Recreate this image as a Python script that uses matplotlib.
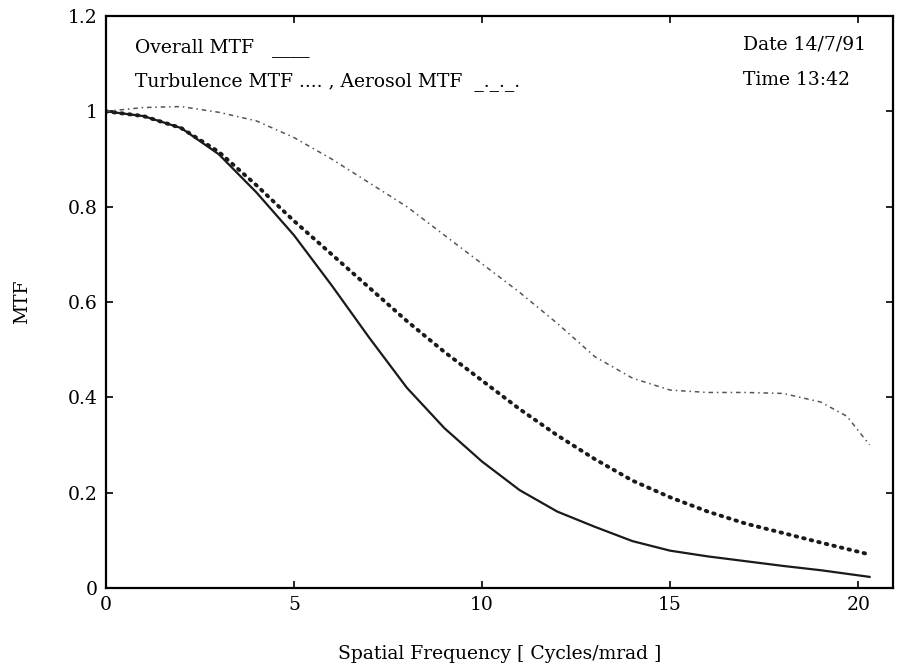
import numpy as np
import matplotlib.pyplot as plt

# ---- data ----
freq = [0, 1, 2, 3, 4, 5, 6, 7, 8, 9, 10, 11, 12, 13, 14, 15, 16, 17, 18, 19, 20.3]

overall_mtf = [1.0, 0.99, 0.965, 0.91, 0.83, 0.74, 0.635, 0.525, 0.42, 0.335, 0.265,
               0.205, 0.16, 0.128, 0.098, 0.078, 0.066, 0.056, 0.046, 0.037, 0.023]

turbulence_mtf = [1.0, 0.99, 0.965, 0.915, 0.845, 0.77, 0.70, 0.63, 0.56, 0.495, 0.435,
                  0.375, 0.32, 0.27, 0.225, 0.19, 0.16, 0.135, 0.115, 0.095, 0.07]

aerosol_freq = [0, 1, 2, 3, 4, 5, 6, 7, 8, 9, 10, 11, 12, 13, 14, 15, 16, 17, 18, 19, 19.7, 20.3]
aerosol_mtf = [1.0, 1.008, 1.01, 0.998, 0.98, 0.945, 0.90, 0.85, 0.80, 0.74, 0.68,
               0.62, 0.555, 0.485, 0.44, 0.415, 0.41, 0.41, 0.408, 0.39, 0.36, 0.30]

x_ticks = [0, 5, 10, 15, 20]
y_ticks = [0, 0.2, 0.4, 0.6, 0.8, 1.0, 1.2]
y_ticklabels = ['0', '0.2', '0.4', '0.6', '0.8', '1', '1.2']

plt.rcParams['font.family'] = ['DejaVu Serif']
plt.rcParams['font.size'] = 13.5

fig = plt.figure(figsize=(9.05, 6.68), dpi=100)
ax = fig.add_axes([0.117, 0.120, 0.870, 0.856])

ax.plot(freq, overall_mtf, '-', color='#1a1a1a', lw=1.6)
ax.plot(freq, turbulence_mtf, color='#1a1a1a', lw=2.8,
        linestyle=(0, (0.4, 1.6)), dash_capstyle='round')
ax.plot(aerosol_freq, aerosol_mtf, color='#555555', lw=1.1,
        linestyle=(0, (3, 2.5, 1, 2.5)))

ax.set_xlim(0, 20.93)
ax.set_ylim(0, 1.2)
ax.set_xticks(x_ticks)
ax.set_yticks(y_ticks)
ax.set_yticklabels(y_ticklabels)
ax.tick_params(direction='in', top=True, right=True, length=5, width=1.2,
               labelsize=13.5, pad=6)
for s in ax.spines.values():
    s.set_linewidth(1.6)

ax.set_xlabel('Spatial Frequency [ Cycles/mrad ]', labelpad=22)
ax.set_ylabel('MTF', labelpad=26)

# in-plot annotations
ax.text(0.78, 1.133, 'Overall MTF   ____', va='center', ha='left')
ax.text(0.78, 1.062, 'Turbulence MTF .... , Aerosol MTF  _._._.', va='center', ha='left')
ax.text(16.94, 1.14, 'Date 14/7/91', va='center', ha='left')
ax.text(16.94, 1.066, 'Time 13:42', va='center', ha='left')

fig.savefig('out.png', dpi=100)
